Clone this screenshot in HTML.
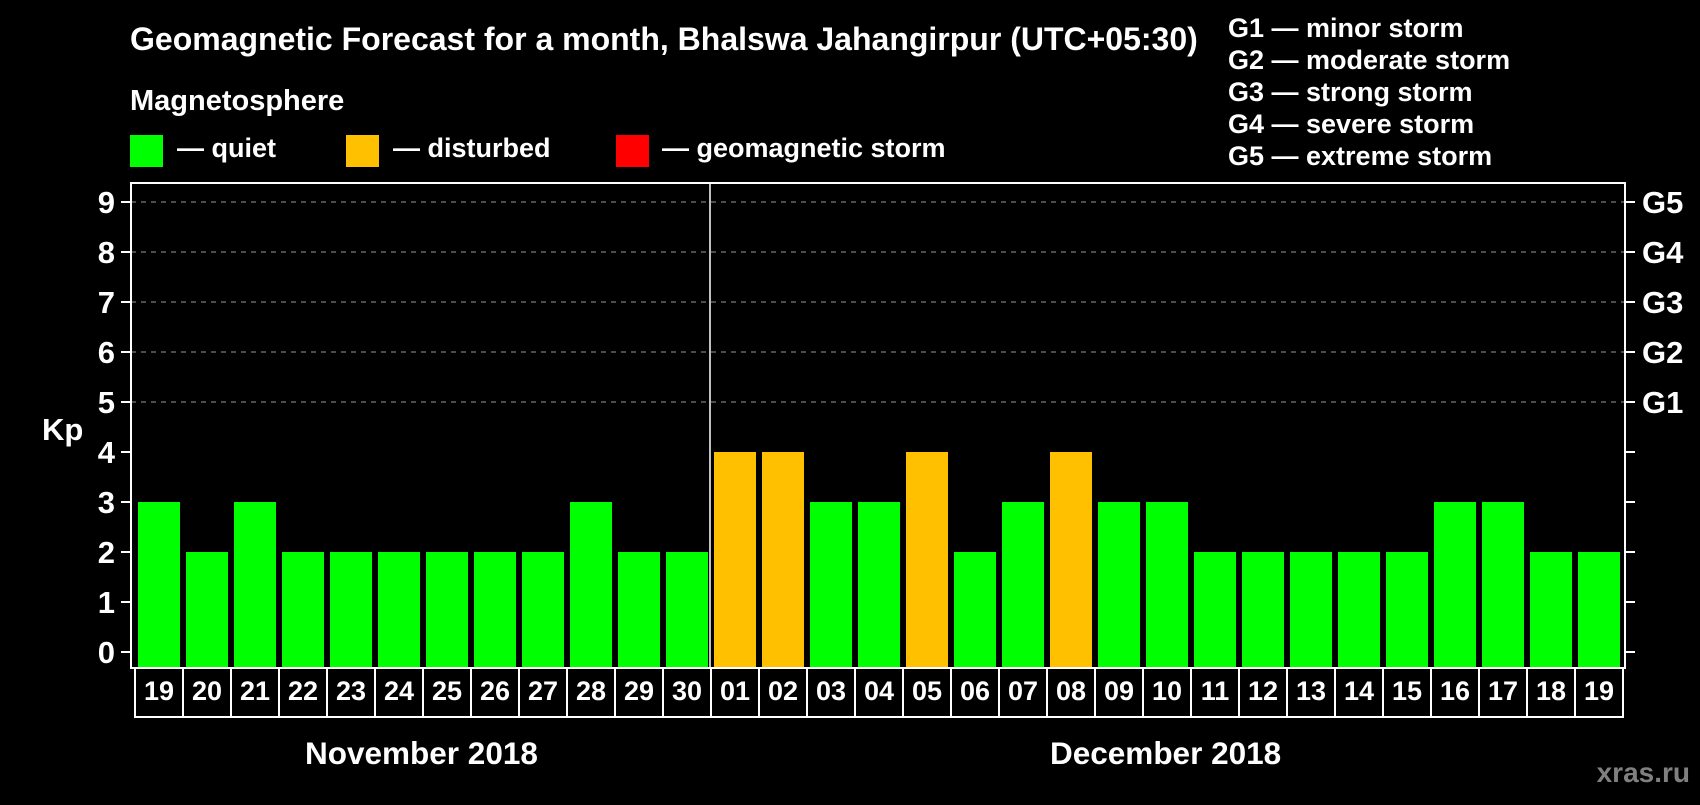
<!DOCTYPE html>
<html><head><meta charset="utf-8"><style>
body{margin:0;background:#000;width:1700px;height:800px;overflow:hidden;font-family:"Liberation Sans",sans-serif}
svg text{font-family:"Liberation Sans",sans-serif;font-weight:bold;fill:#fff}
</style></head><body>
<svg id="c" width="1700" height="800">
<text x="130" y="50" font-size="32">Geomagnetic Forecast for a month, Bhalswa Jahangirpur (UTC+05:30)</text>
<text x="130" y="110" font-size="29">Magnetosphere</text>
<g><rect x="130" y="135" width="33" height="32" fill="#00ff00"/><text x="177" y="157" font-size="27">— quiet</text></g>
<g><rect x="346" y="135" width="33" height="32" fill="#ffc000"/><text x="393" y="157" font-size="27">— disturbed</text></g>
<g><rect x="616" y="135" width="33" height="32" fill="#ff0000"/><text x="662" y="157" font-size="27">— geomagnetic storm</text></g>
<g font-size="27">
<text x="1228" y="37">G1 — minor storm</text><text x="1228" y="69">G2 — moderate storm</text><text x="1228" y="101">G3 — strong storm</text><text x="1228" y="133">G4 — severe storm</text><text x="1228" y="165">G5 — extreme storm</text></g>
<text x="42" y="440" font-size="31">Kp</text>
<text x="305" y="764" font-size="31.5">November 2018</text>
<text x="1050" y="764" font-size="31.5">December 2018</text>
<text x="1690" y="782" font-size="28" text-anchor="end" style="fill:#808080">xras.ru</text>
<g id="plot"></g>
</svg>
<script>
const days=["19","20","21","22","23","24","25","26","27","28","29","30","01","02","03","04","05","06","07","08","09","10","11","12","13","14","15","16","17","18","19"];
const kp=[3,2,3,2,2,2,2,2,2,3,2,2,4,4,3,3,4,2,3,4,3,3,2,2,2,2,2,3,3,2,2];
const yTicks=[0,1,2,3,4,5,6,7,8,9];
const gLabels=["G1","G2","G3","G4","G5"];
const NS="http://www.w3.org/2000/svg";
const g=document.getElementById('plot');
const L=131,R=1625,T=183,B=668,x0=135,cw=48;
const y=v=>652-50*v;
const xd=i=>x0+i*cw;
function mk(t,a){const e=document.createElementNS(NS,t);for(const k in a)e.setAttribute(k,a[k]);g.appendChild(e);return e;}
yTicks.forEach(v=>{
 if(v>=5){const d=mk('line',{x1:L,x2:R,y1:y(v),y2:y(v),stroke:'#999','stroke-dasharray':'5,5','stroke-width':1});
 
 }
 mk('line',{x1:L-10,x2:L,y1:y(v),y2:y(v),stroke:'#fff','stroke-width':2});
 mk('line',{x1:R,x2:R+10,y1:y(v),y2:y(v),stroke:'#fff','stroke-width':2});
 const t=mk('text',{x:L-16,y:y(v)+11,'font-size':31,'text-anchor':'end'});t.textContent=v;
 
 
 if(v>=5){const gt=mk('text',{x:R+17,y:y(v)+11,'font-size':31});gt.textContent=gLabels[v-5];
 
 }
});
kp.forEach((v,i)=>{
 const col=v>=5?'#ff0000':v>=4?'#ffc000':'#00ff00';
 const b=mk('rect',{x:xd(i)+3,y:y(v),width:42,height:B-y(v),fill:col});
 
 
 const c=mk('rect',{x:xd(i),y:B,width:cw,height:49,fill:'none',stroke:'#fff','stroke-width':2});
 
 
 const t=mk('text',{x:xd(i)+cw/2,y:B+32,'font-size':27,'text-anchor':'middle'});t.textContent=days[i];
 
 
});
const dv=days.indexOf("01");
mk('line',{x1:xd(dv)-1,x2:xd(dv)-1,y1:T,y2:B,stroke:'#fff','stroke-width':1.5});
const fr=mk('rect',{x:L,y:T,width:R-L,height:B-T,fill:'none',stroke:'#fff','stroke-width':2});


</script>
</body></html>
